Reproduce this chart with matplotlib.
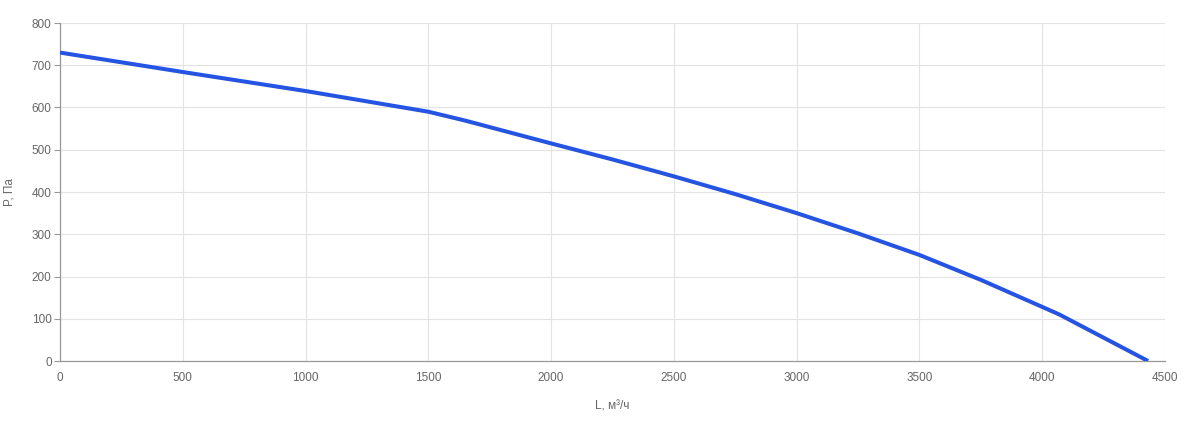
import matplotlib
matplotlib.use("Agg")
import matplotlib.pyplot as plt

# данные кривой вентилятора
flow = [0, 500, 1000, 1500, 1650, 2000, 2250, 2500, 2750, 3000, 3250, 3500, 3750, 4000, 4070, 4431]
pressure = [730, 684, 639, 590, 569, 515, 477, 437, 395, 350, 302, 251, 192, 128, 110, 0]

x_ticks = [0, 500, 1000, 1500, 2000, 2500, 3000, 3500, 4000, 4500]
y_ticks = [0, 100, 200, 300, 400, 500, 600, 700, 800]

plt.rcParams['font.family'] = ['Liberation Sans', 'DejaVu Sans']

fig = plt.figure(figsize=(11.9, 4.23), dpi=100)
ax = fig.add_axes([60 / 1190, (423 - 361) / 423, (1165 - 60) / 1190, (361 - 23) / 423])

ax.plot(flow, pressure, color='#2554e3', linewidth=2.9, solid_capstyle='butt',
        solid_joinstyle='round', zorder=3)

ax.set_xlim(0, 4500)
ax.set_ylim(0, 800)
ax.set_xticks(x_ticks)
ax.set_yticks(y_ticks)

ax.grid(True, color='#e3e3e3', linewidth=0.8)
ax.set_axisbelow(True)

for side in ['top', 'right']:
    ax.spines[side].set_visible(False)
for side in ['left', 'bottom']:
    ax.spines[side].set_color('#999999')
    ax.spines[side].set_linewidth(0.9)

ax.tick_params(axis='x', length=0, pad=8, labelsize=8.5, labelcolor='#666666')
ax.tick_params(axis='y', length=4, color='#999999', pad=2, labelsize=8.5, labelcolor='#666666')

ax.set_xlabel('L, м³/ч', fontsize=8.5, color='#666666', labelpad=12)
ax.set_ylabel('P, Па', fontsize=8.5, color='#666666', labelpad=12)

plt.savefig('out.png', dpi=100)
